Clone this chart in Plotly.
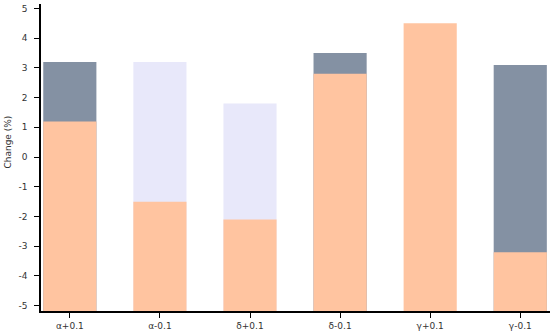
import plotly.graph_objects as go

categories = ["α+0.1", "α-0.1", "δ+0.1", "δ-0.1", "γ+0.1", "γ-0.1"]
upper_values = [3.2, 3.2, 1.8, 3.5, None, 3.1]
upper_colors = ["#8491a3", "#e8e8fa", "#e8e8fa", "#8491a3", "#8491a3", "#8491a3"]
peach_values = [1.2, -1.5, -2.1, 2.8, 4.5, -3.2]
y_ticks = [5, 4, 3, 2, 1, 0, -1, -2, -3, -4, -5]

Y_MIN, Y_MAX = -5.18, 5.15
PEACH = "#ffc4a0"
FONT = "DejaVu Sans"
TEXT = "#333"

fig = go.Figure()
fig.add_trace(go.Bar(
    x=categories,
    y=[None if v is None else v - Y_MIN for v in upper_values],
    base=Y_MIN,
    marker=dict(color=upper_colors, line=dict(width=0)),
    width=0.59,
    showlegend=False,
))
fig.add_trace(go.Bar(
    x=categories,
    y=[v - Y_MIN for v in peach_values],
    base=Y_MIN,
    marker=dict(color=PEACH, line=dict(width=0)),
    width=0.59,
    showlegend=False,
))

fig.update_layout(
    width=550,
    height=334,
    barmode="overlay",
    plot_bgcolor="white",
    paper_bgcolor="white",
    margin=dict(l=41, r=0, t=4, b=23),
    font=dict(family=FONT, size=9, color=TEXT),
    annotations=[dict(
        text="Change (%)",
        xref="paper", yref="paper",
        x=-0.064, y=0.55,
        xanchor="center", yanchor="middle",
        textangle=-90,
        showarrow=False,
        font=dict(size=9, color=TEXT),
    )],
)
fig.update_xaxes(
    range=[-0.32, 5.33],
    automargin=False,
    showline=True,
    linecolor="black",
    linewidth=1.5,
    ticks="outside",
    ticklen=5,
    tickcolor="black",
    showgrid=False,
    zeroline=False,
)
fig.update_yaxes(
    range=[Y_MIN, Y_MAX],
    automargin=False,
    tickvals=y_ticks,
    ticktext=[str(t) for t in y_ticks],
    ticklabelstandoff=5,
    showline=True,
    linecolor="black",
    linewidth=1.5,
    ticks="outside",
    ticklen=5,
    tickcolor="black",
    showgrid=False,
    zeroline=False,
)

# the page's default body margin would push the 550x334 figure off-screen
fig.write_html(
    "out.html",
    config={"displayModeBar": False},
    post_script="document.body.style.margin='0';",
)
